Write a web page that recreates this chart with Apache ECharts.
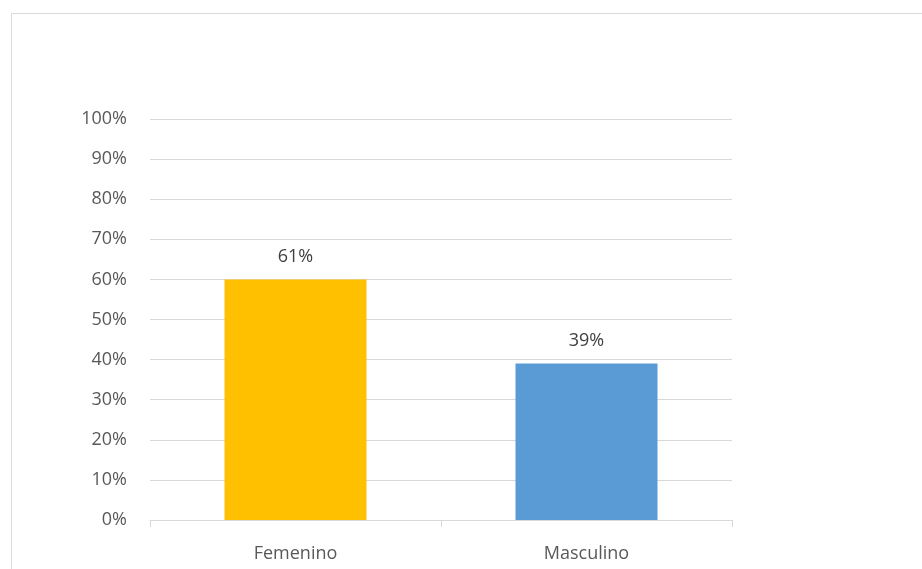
<!DOCTYPE html>
<html>
<head>
<meta charset="utf-8">
<script src="https://cdn.jsdelivr.net/npm/echarts@6/dist/echarts.min.js"></script>
<style>html,body{margin:0;padding:0;background:#fff}#c{width:922px;height:569px}</style>
</head>
<body>
<div id="c"></div>
<script>
const categories = ["Femenino", "Masculino"];
const values = [60, 39];
const valueLabels = ["61%", "39%"];
const barColors = ["#FFC000", "#5B9BD5"];
const yTicks = [0, 10, 20, 30, 40, 50, 60, 70, 80, 90, 100];

const chart = echarts.init(document.getElementById('c'));
const font = '"Open Sans", "Liberation Sans", sans-serif';
chart.setOption({
  animation: false,
  graphic: [{
    type: 'rect', shape: {x: 11.5, y: 13.5, width: 920, height: 600},
    style: {fill: 'none', stroke: '#d9d9d9', lineWidth: 1}, silent: true
  }],
  grid: {left: 150, right: 190, top: 119, bottom: 49},
  xAxis: {
    type: 'category', data: categories,
    axisLine: {lineStyle: {color: '#d9d9d9'}},
    axisTick: {show: true, length: 7, lineStyle: {color: '#d9d9d9'}},
    axisLabel: {color: '#595959', fontSize: 18, fontFamily: font, margin: 25}
  },
  yAxis: {
    type: 'value', min: yTicks[0], max: yTicks[yTicks.length - 1], interval: 10,
    axisLine: {show: false}, axisTick: {show: false},
    splitLine: {lineStyle: {color: '#d9d9d9'}},
    axisLabel: {color: '#595959', fontSize: 18, fontFamily: font, margin: 23, formatter: v => v + '%'}
  },
  series: [{
    type: 'bar', barWidth: 142,
    data: values.map((v, i) => ({value: v, itemStyle: {color: barColors[i]}})),
    label: {
      show: true, position: 'top', distance: 14, color: '#404040', fontSize: 18, fontFamily: font,
      formatter: p => valueLabels[p.dataIndex]
    }
  }]
});
</script>
</body>
</html>
